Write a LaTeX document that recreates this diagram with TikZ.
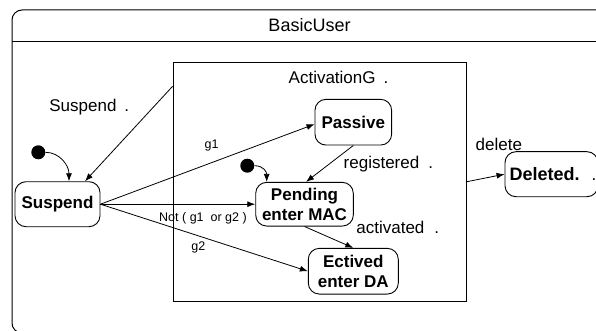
\documentclass[tikz,border=0pt]{standalone}
\usepackage{fontspec}
\setmainfont{Liberation Sans}
\usetikzlibrary{arrows.meta}
\begin{document}
\begin{tikzpicture}[x=1pt,y=-1pt,
  stateshape/.style={draw, rounded corners=11pt, align=center, inner sep=0pt,
    font=\bfseries\fontsize{17}{19.5}\selectfont, line width=0.9pt},
  lbl/.style={inner sep=0pt, font=\fontsize{17}{20}\selectfont},
  small/.style={inner sep=0pt, font=\fontsize{12.5}{15}\selectfont},
  trans/.style={-{Latex[length=8pt,width=6pt]}, line width=0.8pt},
  initdot/.style={circle, fill=black, minimum size=14pt, inner sep=0pt}]
\useasboundingbox (0,0) rectangle (596,331);
\clip (0,0) rectangle (596,331);

% enclosing state BasicUser with its header compartment
\draw[line width=1pt, rounded corners=10pt] (12,10) rectangle (640,333);
\draw[line width=1pt] (12,41.5) -- (640,41.5);
\node[inner sep=0pt, anchor=base, font=\fontsize{18}{21}\selectfont] (title) at (309.5,31.7) {BasicUser};

% composite region ActivationG
\node[draw, line width=0.8pt, minimum width=293.7pt, minimum height=238.7pt, inner sep=0pt] (act) at (319.85,181.65) {};
\node[lbl, anchor=base west] (lact) at (288.5,83.3) {ActivationG\hspace{8pt}.};

% states
\node[stateshape, minimum width=85pt, minimum height=45pt] (susp) at (57.5,204.2) {Suspend};
\node[stateshape, minimum width=76.7pt, minimum height=45.7pt] (pass) at (353.3,122.2) {Passive};
\node[stateshape, minimum width=97.6pt, minimum height=43.7pt] (pend) at (304.5,204.2) {Pending\\enter MAC};
\node[stateshape, minimum width=90pt, minimum height=45.7pt] (ect) at (353.3,271.2) {Ectived\\enter DA};
\node[stateshape, minimum width=93pt, minimum height=45pt] (del) at (551.5,174.2) {};
\node[inner sep=0pt, anchor=base west, font=\bfseries\fontsize{18}{20}\selectfont] (ldeleted) at (509.5,180.5) {Deleted.};
\node[lbl, anchor=base west] (ldeldot) at (591.5,180.5) {.};

% initial pseudostates
\node[initdot] (init1) at (38.3,152.3) {};
\node[initdot] (init2) at (247.3,165.7) {};

% transitions
\draw[trans] (init1.east) .. controls +(14,0) and +(0,-16) .. ([xshift=11.5pt]susp.north);
\draw[trans] (init2.east) .. controls +(9,0) and +(0,-10) .. ([xshift=-37.8pt]pend.north);
\draw[trans] ([yshift=-24.4pt]act.north west) -- ([xshift=27.5pt]susp.north);
\draw[trans] (susp.east) -- ([yshift=-2pt]pass.west);
\draw[trans] (susp.east) -- (pend.west);
\draw[trans] (susp.east) -- (ect.west);
\draw[trans] (pass.south) -- ([xshift=1.5pt]pend.north);
\draw[trans] (pend.south) -- (ect.north);
\draw[trans] (act.east) -- (del.west);

% transition labels
\node[lbl, anchor=base west] (lsusp) at (49.2,111.7) {Suspend\hspace{8pt}.};
\node[small, anchor=base west] (lg1) at (204.5,148.3) {g1};
\node[small, anchor=base west] (lnot) at (159,221.7) {Not ( g1\ \ or g2 )};
\node[small, anchor=base west] (lg2) at (191.2,250) {g2};
\node[lbl, anchor=base west] (lreg) at (343.5,168.3) {registered\hspace{9pt}.};
\node[lbl, anchor=base west] (lactv) at (356.2,233.3) {activated\hspace{10pt}.};
\node[lbl, anchor=base west] (ldel) at (475.5,150.7) {delete};
\end{tikzpicture}
\end{document}
